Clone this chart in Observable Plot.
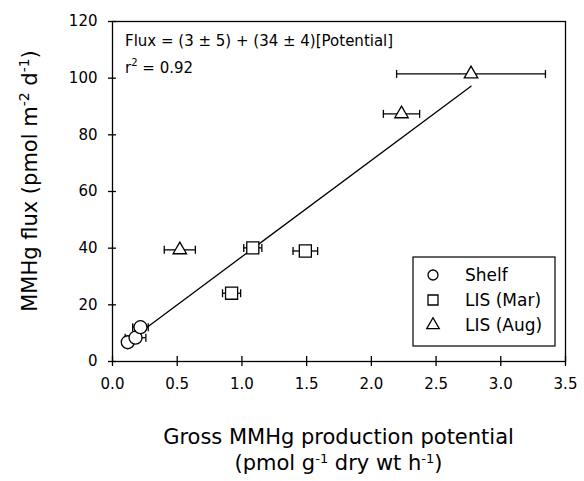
<!DOCTYPE html>
<html><head><meta charset="utf-8">
<script src="https://cdn.jsdelivr.net/npm/d3@7"></script>
<script src="https://cdn.jsdelivr.net/npm/@observablehq/plot@0.6"></script>
<style>body{margin:0;background:#fff} svg text{font-family:"DejaVu Sans",sans-serif}</style>
</head><body><div id="chart"></div>
<script>
// ---- data ----
const groups = ["Shelf", "LIS (Mar)", "LIS (Aug)"];
const shelfX = [0.118, 0.178, 0.216];
const shelfY = [6.8, 8.4, 12.1];
const shelfErr = [0.03, 0.08, 0.06];
const marX = [0.92, 1.084, 1.49];
const marY = [24.1, 40.1, 39.0];
const marErr = [0.07, 0.07, 0.095];
const augX = [0.52, 2.233, 2.77];
const augY = [39.4, 87.4, 101.5];
const augErr = [0.12, 0.14, 0.575];
const fitIntercept = 3, fitSlope = 34;
const fitRange = [0.12, 2.77];
const xTicks = [0, 0.5, 1, 1.5, 2, 2.5, 3, 3.5];
const yTicks = [0, 20, 40, 60, 80, 100, 120];
const eqText = "Flux = (3 ± 5) + (34 ± 4)[Potential]";
const r2Text = " = 0.92";

const mk = (xs, ys, es, g) => xs.map((x, i) => ({x, y: ys[i], e: es[i], g}));
const shelf = mk(shelfX, shelfY, shelfErr, groups[0]);
const mar = mk(marX, marY, marErr, groups[1]);
const aug = mk(augX, augY, augErr, groups[2]);
const all = [...shelf, ...mar, ...aug];
const caps = all.flatMap(d => [{x: d.x - d.e, y: d.y}, {x: d.x + d.e, y: d.y}]);
const fit = fitRange.map(x => ({x, y: fitIntercept + fitSlope * x}));
const capSymbol = {draw(ctx) { ctx.moveTo(0, -4); ctx.lineTo(0, 4); }};

const K = "#000";
const blank = () => "";
const plot = Plot.plot({
  width: 584, height: 481,
  marginLeft: 112, marginRight: 19, marginTop: 21, marginBottom: 120,
  style: {fontFamily: "DejaVu Sans", fontSize: "15px", color: K, background: "#fff"},
  x: {domain: [0, 3.5], axis: null, label: null},
  y: {domain: [0, 120], axis: null, label: null},
  marks: [
    Plot.frame({stroke: K, strokeWidth: 1.3}),
    Plot.axisX(xTicks, {tickSize: 5, tickPadding: 12, fontSize: 15, stroke: K, fill: K, strokeWidth: 1.3, label: null, tickFormat: d => d.toFixed(1)}),
    Plot.axisX(xTicks, {tickSize: -5, stroke: K, strokeWidth: 1.3, label: null, tickFormat: blank}),
    Plot.axisY(yTicks, {tickSize: 4, tickPadding: 11, fontSize: 15, stroke: K, fill: K, strokeWidth: 1.3, label: null, tickFormat: d => String(d)}),
    Plot.axisY(yTicks, {tickSize: -4, stroke: K, strokeWidth: 1.3, label: null, tickFormat: blank}),
    Plot.line(fit, {x: "x", y: "y", stroke: K, strokeWidth: 1.3}),
    Plot.ruleY(all, {y: "y", x1: d => d.x - d.e, x2: d => d.x + d.e, stroke: K, strokeWidth: 1.3}),
    Plot.dot(caps, {x: "x", y: "y", symbol: capSymbol, stroke: K, strokeWidth: 1.3, r: 4}),
    Plot.dot(shelf, {x: "x", y: "y", symbol: "circle", r: 6.5, fill: "#fff", stroke: K, strokeWidth: 1.3}),
    Plot.dot(mar, {x: "x", y: "y", symbol: "square", r: 6.8, fill: "#fff", stroke: K, strokeWidth: 1.3}),
    Plot.dot(aug, {x: "x", y: "y", symbol: "triangle", r: 5, fill: "#fff", stroke: K, strokeWidth: 1.3})
  ]
});
document.getElementById("chart").appendChild(plot);

const svg = d3.select(plot);
function richText(sel, parts, size, supSize, rise) {
  let pending = 0;
  parts.forEach(p => {
    if (typeof p === "string") {
      const t = sel.append("tspan").attr("font-size", size).text(p);
      if (pending) t.attr("dy", pending);
      pending = 0;
    } else {
      sel.append("tspan").attr("font-size", supSize).attr("dy", -rise).text(p.sup);
      pending = rise;
    }
  });
  return sel;
}
// annotation
svg.append("text").attr("x", 125).attr("y", 46).attr("text-anchor", "start").attr("fill", K).attr("font-size", 15).text(eqText);
richText(svg.append("text").attr("x", 125).attr("y", 73).attr("text-anchor", "start").attr("fill", K), ["r", {sup: "2"}, r2Text], 15, 10, 7);

// axis titles
svg.append("text").attr("x", 338.5).attr("y", 444).attr("text-anchor", "middle").attr("fill", K)
  .attr("font-size", 21).text("Gross MMHg production potential");
richText(svg.append("text").attr("x", 338.5).attr("y", 470).attr("text-anchor", "middle").attr("fill", K),
  ["(pmol g", {sup: "-1"}, " dry wt h", {sup: "-1"}, ")"], 21, 13, 7);
richText(svg.append("text").attr("transform", "translate(37,181) rotate(-90)").attr("text-anchor", "middle").attr("fill", K),
  ["MMHg flux (pmol m", {sup: "-2"}, " d", {sup: "-1"}, ")"], 21, 14, 8);

// legend
const lg = svg.append("g");
lg.append("rect").attr("x", 413).attr("y", 257).attr("width", 142).attr("height", 89)
  .attr("fill", "#fff").attr("stroke", K).attr("stroke-width", 1.2);
const legSyms = [
  d3.symbol(d3.symbolCircle, Math.PI * 25)(),
  d3.symbol(d3.symbolSquare, 100)(),
  d3.symbol(d3.symbolTriangle, 68)()
];
groups.forEach((g, i) => {
  const cy = 275 + i * 25;
  lg.append("path").attr("d", legSyms[i]).attr("transform", `translate(433,${cy})`)
    .attr("fill", "none").attr("stroke", K).attr("stroke-width", 1.3);
  lg.append("text").attr("x", 465).attr("y", cy + 6).attr("text-anchor", "start").attr("font-size", 17).attr("fill", K).text(g);
});
</script></body></html>
